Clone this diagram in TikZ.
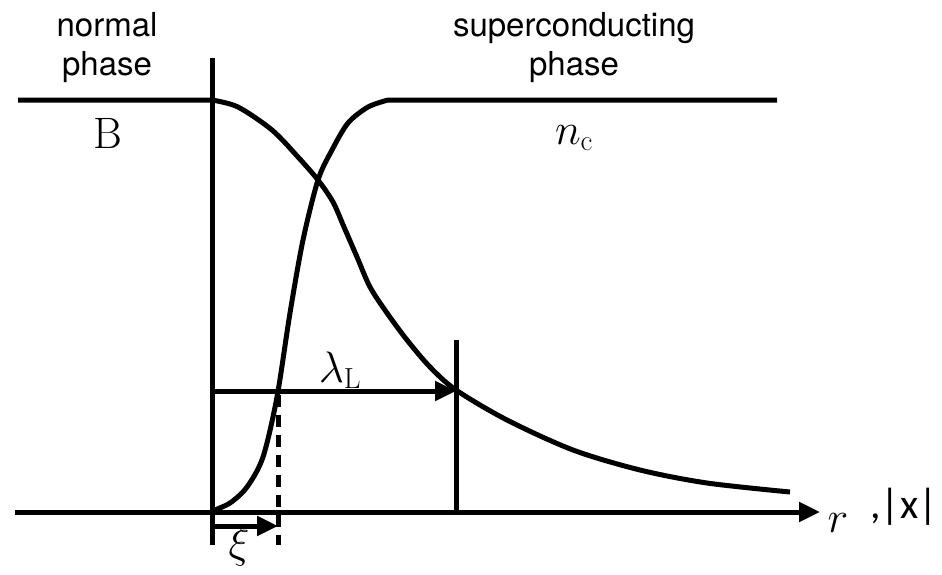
\RequirePackage{fix-cm}
\documentclass[tikz,border=0pt]{standalone}
\usepackage{fontspec}
\setsansfont{TeX Gyre Heros}
\newfontfamily\calfont{Carlito}
\usetikzlibrary{arrows.meta}
\newcommand\subtxt[1]{\mbox{\fontsize{29}{29}\selectfont #1}}
\tikzset{
  >={Triangle[length=21pt,width=19pt]},
  curve/.style={line width=5pt,line join=round},
  axis/.style={line width=5pt},
  phaselab/.style={font=\sffamily\fontsize{33}{39}\selectfont,align=center,inner sep=0pt,anchor=base},
  mathlab/.style={font=\fontsize{44}{50}\selectfont,inner sep=0pt,anchor=base},
}

\begin{document}
\begin{tikzpicture}[x=1pt,y=-1pt]
  \useasboundingbox (0,0) rectangle (942,574);

  % reference points
  \coordinate (O) at (212,512);
  \coordinate (axL) at (15,512);
  \coordinate (axR) at (820,512);
  \coordinate (vT) at (212,58);
  \coordinate (vB) at (212,545);
  \coordinate (lamT) at (456,340);
  \coordinate (lamB) at (456,512);
  \coordinate (lamE) at (456,391);
  \coordinate (lamS) at (212,391);
  \coordinate (xiE) at (278,526);
  \coordinate (xiS) at (212,526);
  \coordinate (dashT) at (278,395);
  \coordinate (dashB) at (278,545);
  \coordinate (topL) at (18,100);
  \coordinate (topR) at (777,100);

  % axes and marks
  \draw[axis] (vT) -- (vB);
  \draw[axis,->] (axL) -- (axR);
  \draw[axis] (lamT) -- (lamB);
  \draw[axis,dash pattern=on 12pt off 8pt] (dashT) -- (dashB);

  % field B
  \draw[curve] (topL) -- (212,100)
    plot[smooth] coordinates {(212,100) (238,107) (272,130) (298,157) (318,180)
      (333,202) (344,227) (357,257) (370,287) (387,313) (407,340) (430,367)
      (456,390) (507,420) (573,450) (640,470) (707,483) (790,492)};

  % condensate n_c
  \draw[curve] plot[smooth] coordinates {(212,511) (230,503) (247,487)
      (263,457) (277,397) (290,313) (303,240) (318,180) (332,150) (348,123)
      (368,107) (388,100)} -- (topR);

  % length arrows
  \draw[axis,->] (lamS) -- (lamE);
  \draw[axis,->] (xiS) -- (xiE);

  % labels
  \node[phaselab] (normal) at (107,75) {normal\\phase};
  \node[phaselab] (super) at (574,75) {superconducting\\phase};
  \node[mathlab] (B) at (108,148) {$\mathrm{B}$};
  \node[mathlab] (nc) at (574,144) {$n_{\subtxt{c}}$};
  \node[mathlab] (lamL) at (340,382) {$\lambda_{\subtxt{L}}$};
  \node[mathlab] (xi) at (239,557) {$\xi$};
  \node[mathlab] (r) at (838,532) {$r$};
  \node[font=\calfont\fontsize{42}{46}\selectfont,inner sep=0pt,anchor=base] (absx) at (904,518) {,|x|};
\end{tikzpicture}
\end{document}
